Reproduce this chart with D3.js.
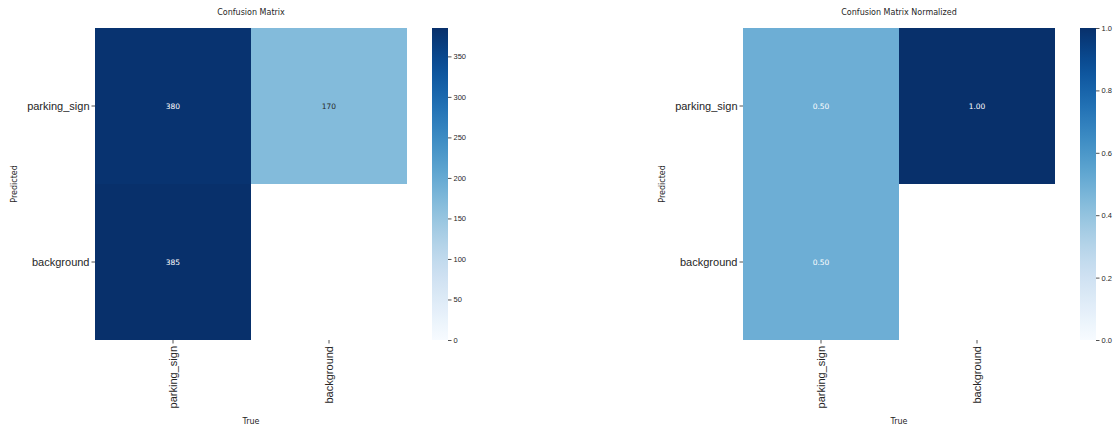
<!DOCTYPE html>
<html>
<head>
<meta charset="utf-8">
<script src="https://cdn.jsdelivr.net/npm/d3@7"></script>
<style>
  body { margin: 0; background: #fff; }
  svg { display: block; font-family: "DejaVu Sans", sans-serif; }
</style>
</head>
<body>
<div id="chart"></div>
<script>
// class names, rows = predicted, columns = true
var classes = ["parking_sign", "background"];

// raw counts (null = empty cell)
var countValues = [
  [380, 170],
  [385, null]
];
var countMax = 385;
var countTicks = [0, 50, 100, 150, 200, 250, 300, 350];

// normalized per column
var normValues = [
  [0.50, 1.00],
  [0.50, null]
];
var normTicks = [0, 0.2, 0.4, 0.6, 0.8, 1.0];

var W = 1117, H = 427;

var svg = d3.select("#chart").append("svg")
  .attr("width", W)
  .attr("height", H);

function drawMatrix(opts) {
  var g = svg.append("g");
  var left = opts.left, top = 28, size = 312;

  var x = d3.scaleBand().domain(classes).range([left, left + size]);
  var y = d3.scaleBand().domain(classes).range([top, top + size]);
  var color = d3.scaleSequential(d3.interpolateBlues).domain([0, opts.max]);

  var cells = [];
  opts.values.forEach(function(row, i) {
    row.forEach(function(v, j) {
      if (v !== null) cells.push({ r: classes[i], c: classes[j], v: v });
    });
  });

  g.selectAll("rect.cell")
    .data(cells)
    .enter()
    .append("rect")
    .attr("class", "cell")
    .attr("x", function(d) { return x(d.c); })
    .attr("y", function(d) { return y(d.r); })
    .attr("width", x.bandwidth())
    .attr("height", y.bandwidth())
    .attr("fill", function(d) { return color(d.v); });

  g.selectAll("text.annot")
    .data(cells)
    .enter()
    .append("text")
    .attr("class", "annot")
    .attr("x", function(d) { return x(d.c) + x.bandwidth() / 2; })
    .attr("y", function(d) { return y(d.r) + y.bandwidth() / 2; })
    .attr("text-anchor", "middle")
    .attr("dominant-baseline", "central")
    .attr("font-size", 7.5)
    .attr("fill", function(d) { return d.v / opts.max > 0.48 ? "#fff" : "#262626"; })
    .text(function(d) { return opts.fmt(d.v); });

  // y axis
  var yAxis = g.append("g")
    .attr("transform", "translate(" + left + ",0)")
    .call(d3.axisLeft(y).tickSize(3.5).tickPadding(2));
  yAxis.select(".domain").remove();
  yAxis.selectAll("text").attr("font-size", 11).attr("fill", "#262626");
  yAxis.selectAll("line").attr("stroke", "#262626").attr("stroke-width", 0.8);

  // x axis, rotated labels
  var xAxis = g.append("g")
    .attr("transform", "translate(0," + (top + size) + ")")
    .call(d3.axisBottom(x).tickSize(3.5).tickPadding(2));
  xAxis.select(".domain").remove();
  xAxis.selectAll("line").attr("stroke", "#262626").attr("stroke-width", 0.8);
  xAxis.selectAll("text")
    .attr("font-size", 11)
    .attr("fill", "#262626")
    .attr("text-anchor", "end")
    .attr("dy", null)
    .attr("dominant-baseline", "central")
    .attr("transform", "rotate(-90)")
    .attr("x", -6)
    .attr("y", 0);

  // title and axis labels
  g.append("text")
    .attr("x", left + size / 2)
    .attr("y", 15)
    .attr("text-anchor", "middle")
    .attr("font-size", 8)
    .attr("fill", "#262626")
    .text(opts.title);

  g.append("text")
    .attr("x", left + size / 2)
    .attr("y", 424)
    .attr("text-anchor", "middle")
    .attr("font-size", 8)
    .attr("fill", "#262626")
    .text("True");

  g.append("text")
    .attr("transform", "translate(" + (opts.left - 78) + "," + (top + size / 2) + ") rotate(-90)")
    .attr("text-anchor", "middle")
    .attr("font-size", 8)
    .attr("fill", "#262626")
    .text("Predicted");

  // colorbar
  var cbX = opts.cbLeft, cbW = 16;
  var cbScale = d3.scaleLinear().domain([0, opts.max]).range([top + size, top]);
  var gradId = "grad" + opts.left;
  var grad = svg.append("defs").append("linearGradient")
    .attr("id", gradId)
    .attr("x1", 0).attr("y1", 1).attr("x2", 0).attr("y2", 0);
  d3.range(0, 1.001, 0.05).forEach(function(t) {
    grad.append("stop")
      .attr("offset", t)
      .attr("stop-color", d3.interpolateBlues(t));
  });
  g.append("rect")
    .attr("x", cbX)
    .attr("y", top)
    .attr("width", cbW)
    .attr("height", size)
    .attr("fill", "url(#" + gradId + ")");

  var cbAxis = g.append("g")
    .attr("transform", "translate(" + (cbX + cbW) + ",0)")
    .call(d3.axisRight(cbScale).tickValues(opts.ticks).tickFormat(opts.tickFmt).tickSize(3.5).tickPadding(2));
  cbAxis.select(".domain").remove();
  cbAxis.selectAll("text").attr("font-size", 7.5).attr("fill", "#262626");
  cbAxis.selectAll("line").attr("stroke", "#262626").attr("stroke-width", 0.8);
}

drawMatrix({
  left: 95,
  cbLeft: 432,
  values: countValues,
  max: countMax,
  ticks: countTicks,
  tickFmt: d3.format("d"),
  fmt: d3.format("d"),
  title: "Confusion Matrix"
});

drawMatrix({
  left: 743,
  cbLeft: 1080,
  values: normValues,
  max: 1,
  ticks: normTicks,
  tickFmt: d3.format(".1f"),
  fmt: d3.format(".2f"),
  title: "Confusion Matrix Normalized"
});
</script>
</body>
</html>
